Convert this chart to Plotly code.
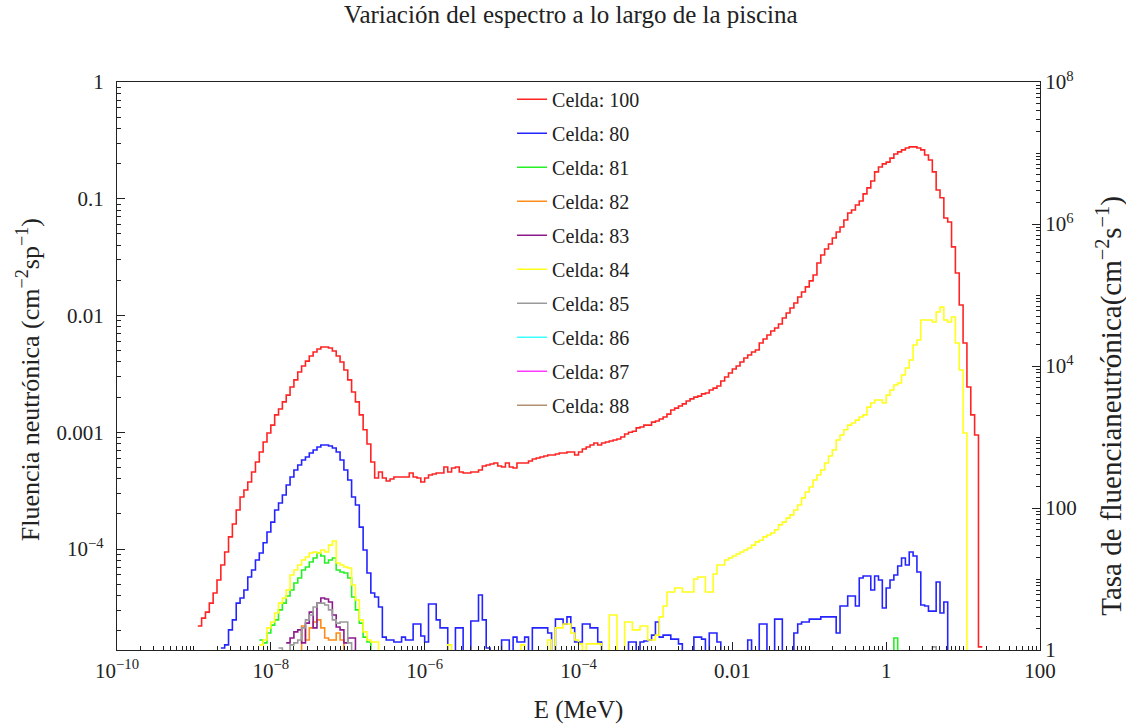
import numpy as np
import plotly.graph_objects as go

# ---------------- energy binning (log-spaced histogram bins) ----------------
LOG_E_FIRST_EDGE = -8.95      # log10 of first bin edge (MeV)
BINS_PER_DECADE = 20
Z = 1.0e-5                    # value read as "below the bottom axis"

# ---------------- series values (per bin, starting at given bin index) ----------------
RED = [
    2.19e-5, 2.56e-5, 2.88e-5, 3.44e-5, 4.20e-5, 5.42e-5, 7.29e-5, 9.42e-5, 1.27e-4, 1.64e-4,
    2.16e-4, 2.79e-4, 3.20e-4, 3.75e-4, 4.57e-4, 5.56e-4, 6.78e-4, 8.25e-4, 9.86e-4, 1.15e-3,
    1.41e-3, 1.58e-3, 1.82e-3, 2.08e-3, 2.44e-3, 2.81e-3, 3.28e-3, 3.69e-3, 4.07e-3, 4.50e-3,
    4.87e-3, 5.16e-3, 5.37e-3, 5.37e-3, 5.27e-3, 4.96e-3, 4.50e-3, 4.00e-3, 3.41e-3, 2.81e-3,
    2.21e-3, 1.82e-3, 1.41e-3, 1.05e-3, 7.93e-4, 5.56e-4, 4.06e-4, 4.57e-4, 4.06e-4, 3.82e-4,
    3.98e-4, 4.14e-4, 4.14e-4, 4.14e-4, 4.14e-4, 4.48e-4, 4.14e-4, 4.06e-4, 3.75e-4, 4.06e-4,
    4.30e-4, 4.39e-4, 4.48e-4, 4.48e-4, 5.04e-4, 4.57e-4, 4.94e-4, 5.04e-4, 4.57e-4, 4.48e-4,
    4.48e-4, 4.57e-4, 4.57e-4, 4.75e-4, 5.14e-4, 5.24e-4, 5.35e-4, 5.45e-4, 5.14e-4, 5.04e-4,
    5.45e-4, 5.04e-4, 4.94e-4, 5.45e-4, 5.45e-4, 5.45e-4, 5.67e-4, 5.90e-4, 6.02e-4, 6.14e-4,
    6.26e-4, 6.38e-4, 6.38e-4, 6.51e-4, 6.64e-4, 6.64e-4, 6.78e-4, 6.78e-4, 6.38e-4, 6.78e-4,
    7.19e-4, 7.48e-4, 7.78e-4, 8.09e-4, 7.78e-4, 8.09e-4, 8.25e-4, 8.41e-4, 8.58e-4, 8.75e-4,
    9.10e-4, 9.66e-4, 1.00e-3, 1.02e-3, 1.09e-3, 1.11e-3, 1.15e-3, 1.15e-3, 1.22e-3, 1.25e-3,
    1.30e-3, 1.35e-3, 1.43e-3, 1.55e-3, 1.61e-3, 1.68e-3, 1.75e-3, 1.85e-3, 1.93e-3, 2.00e-3,
    2.04e-3, 2.13e-3, 2.17e-3, 2.30e-3, 2.39e-3, 2.49e-3, 2.75e-3, 2.97e-3, 3.22e-3, 3.48e-3,
    3.69e-3, 4.00e-3, 4.33e-3, 4.59e-3, 4.87e-3, 5.06e-3, 5.81e-3, 6.29e-3, 6.81e-3, 7.37e-3,
    7.82e-3, 8.46e-3, 9.52e-3, 1.05e-2, 1.16e-2, 1.28e-2, 1.44e-2, 1.59e-2, 1.76e-2, 1.98e-2,
    2.22e-2, 2.82e-2, 3.30e-2, 3.71e-2, 4.10e-2, 4.61e-2, 5.19e-2, 5.73e-2, 6.58e-2, 7.55e-2,
    8.01e-2, 8.84e-2, 9.57e-2, 0.110, 0.124, 0.142, 0.170, 0.187, 0.199, 0.206,
    0.223, 0.242, 0.252, 0.262, 0.272, 0.278, 0.278, 0.272, 0.262, 0.237,
    0.215, 0.170, 0.119, 0.102, 6.84e-2, 6.33e-2, 3.87e-2, 2.31e-2, 1.23e-2, 5.81e-3,
    2.44e-3, 1.41e-3, 9.47e-4, 1.45e-5,
]
BLUE = [
    1.42e-5, 1.51e-5, 2.03e-5, 2.47e-5, 3.44e-5, 3.80e-5, 4.46e-5, 5.76e-5, 6.61e-5, 8.05e-5,
    9.24e-5, 1.13e-4, 1.40e-4, 1.70e-4, 2.16e-4, 2.48e-4, 2.90e-4, 3.53e-4, 4.14e-4, 4.75e-4,
    5.24e-4, 5.78e-4, 6.14e-4, 6.64e-4, 7.05e-4, 7.48e-4, 7.78e-4, 7.78e-4, 7.62e-4, 7.33e-4,
    6.78e-4, 5.78e-4, 4.75e-4, 3.90e-4, 2.79e-4, 2.38e-4, 1.54e-4, 9.80e-5, 6.23e-5, 4.20e-5,
    3.88e-5, 3.19e-5, 1.76e-5, 1.66e-5, 1.66e-5, 1.60e-5, 1.60e-5, 1.76e-5, 1.66e-5, 1.66e-5,
    2.28e-5, 2.28e-5, 1.80e-5, 1.60e-5, 3.38e-5, 3.38e-5, 2.47e-5, 2.11e-5, 2.11e-5, Z,
    Z, 2.11e-5, 2.11e-5, Z, Z, 2.42e-5, 2.42e-5, 4.04e-5, 2.47e-5, 1.42e-5,
    Z, Z, Z, 1.66e-5, 1.66e-5, Z, 1.76e-5, 1.60e-5, 1.60e-5, 1.76e-5,
    Z, 2.11e-5, 2.11e-5, 2.11e-5, 2.11e-5, 1.91e-5, Z, 2.51e-5, 2.51e-5, 2.28e-5,
    2.62e-5, 2.11e-5, 1.60e-5, 1.60e-5, 2.28e-5, 2.28e-5, 2.11e-5, 2.11e-5, 1.60e-5, Z,
    Z, Z, Z, Z, Z, Z, 1.60e-5, 1.60e-5, Z, 1.60e-5,
    1.63e-5, 1.66e-5, 1.83e-5, 2.37e-5, 1.76e-5, 1.83e-5, 1.83e-5, 1.69e-5, 1.69e-5, 1.54e-5,
    Z, Z, Z, 1.76e-5, 1.76e-5, 1.69e-5, Z, 1.91e-5, 1.91e-5, 1.60e-5,
    Z, Z, Z, Z, Z, Z, Z, 1.66e-5, Z, Z,
    2.28e-5, 2.28e-5, Z, Z, 2.51e-5, 2.51e-5, Z, Z, Z, 1.91e-5,
    2.28e-5, 2.37e-5, 2.37e-5, 2.51e-5, 2.51e-5, 2.51e-5, 2.62e-5, 2.62e-5, 2.62e-5, 2.62e-5,
    1.91e-5, 3.25e-5, 3.25e-5, 3.96e-5, 3.96e-5, 3.25e-5, 5.65e-5, 5.87e-5, 5.87e-5, 4.46e-5,
    5.87e-5, 5.42e-5, 3.12e-5, 4.63e-5, 5.42e-5, 5.99e-5, 7.15e-5, 8.37e-5, 7.29e-5, 9.42e-5,
    8.71e-5, 6.36e-5, 3.31e-5, 3.25e-5, 2.94e-5, 2.94e-5, 5.21e-5, 2.83e-5, 3.52e-5, Z,
]
GREEN_THERMAL = [
    1.66e-5, 1.57e-5, 1.91e-5, 2.23e-5, 2.47e-5, 3.01e-5, 3.44e-5, 3.96e-5, 4.46e-5, 5.11e-5,
    5.65e-5, 6.61e-5, 7.02e-5, 7.74e-5, 8.37e-5, 9.24e-5, 8.71e-5, 7.58e-5, 8.05e-5, 8.37e-5,
    6.61e-5, 6.36e-5, 6.23e-5, 5.65e-5, 3.88e-5, 3.01e-5, 2.32e-5, 1.76e-5, 1.60e-5, Z,
]
GREEN_FAST = [Z, 1.73e-5, Z]
ORANGE = [Z, 2.19e-5, 1.66e-5, 2.11e-5, 2.37e-5, 2.47e-5, 2.11e-5, 1.73e-5, 1.66e-5, 1.66e-5,
          1.91e-5, 1.66e-5, Z]
PURPLE = [1.57e-5, 1.73e-5, 1.95e-5, 2.03e-5, 1.57e-5, 2.32e-5, 2.88e-5, 2.11e-5, 3.44e-5, 3.80e-5,
          3.73e-5, 3.52e-5, 2.72e-5, 2.15e-5, 2.03e-5, 1.57e-5, 1.73e-5, 1.73e-5, Z]
YELLOW_THERMAL = [
    1.51e-5, 1.66e-5, 2.11e-5, 2.37e-5, 2.83e-5, 3.44e-5, 3.80e-5, 4.46e-5, 5.99e-5, 6.61e-5,
    7.29e-5, 8.05e-5, 8.54e-5, 9.24e-5, 9.42e-5, 9.24e-5, 9.80e-5, 9.42e-5, 1.08e-4, 1.17e-4,
    7.58e-5, 7.29e-5, 7.02e-5, 6.88e-5, 4.92e-5, 3.66e-5, 2.47e-5, 1.95e-5, 1.66e-5, 1.60e-5,
    1.60e-5, Z,
]
YELLOW_EPI_1 = [Z, 1.51e-5, Z]
YELLOW_EPI_2 = [Z, 1.51e-5, Z]
YELLOW_FAST = [
    Z, 1.66e-5, Z, 2.11e-5, 2.11e-5, 2.28e-5, 2.28e-5, 1.91e-5, 1.66e-5, 1.54e-5,
    Z, 1.54e-5, 1.54e-5, 1.54e-5, 1.54e-5, Z, Z, 2.72e-5, 2.72e-5, Z,
    Z, 2.37e-5, 2.37e-5, 2.03e-5, 2.03e-5, 2.19e-5, 2.19e-5, 1.66e-5, 1.66e-5, 1.83e-5,
    2.62e-5, 3.25e-5, 4.28e-5, 4.28e-5, 4.63e-5, 4.63e-5, 4.28e-5, 4.28e-5, 4.28e-5, 5.53e-5,
    5.76e-5, 5.76e-5, 4.28e-5, 4.28e-5, 6.11e-5, 7.29e-5, 7.29e-5, 8.05e-5, 8.37e-5, 8.71e-5,
    9.06e-5, 9.42e-5, 9.80e-5, 1.02e-4, 1.08e-4, 1.15e-4, 1.19e-4, 1.27e-4, 1.32e-4, 1.37e-4,
    1.46e-4, 1.61e-4, 1.70e-4, 1.84e-4, 1.96e-4, 2.16e-4, 2.38e-4, 2.74e-4, 3.08e-4, 3.40e-4,
    3.90e-4, 4.30e-4, 4.75e-4, 5.45e-4, 6.26e-4, 7.05e-4, 8.58e-4, 9.47e-4, 1.05e-3, 1.15e-3,
    1.20e-3, 1.27e-3, 1.35e-3, 1.41e-3, 1.64e-3, 1.78e-3, 1.89e-3, 1.89e-3, 1.78e-3, 2.08e-3,
    2.30e-3, 2.54e-3, 2.64e-3, 3.09e-3, 3.55e-3, 4.16e-3, 5.59e-3, 6.17e-3, 9.15e-3, 9.15e-3,
    9.15e-3, 8.79e-3, 1.07e-2, 1.18e-2, 9.15e-3, 8.79e-3, 9.71e-3, 5.81e-3, 3.41e-3, 9.86e-4,
    Z,
]
GRAY_THERMAL = [1.42e-5, Z, Z, 1.51e-5, 1.57e-5, 1.66e-5, 2.11e-5, 2.47e-5, 2.72e-5, 3.19e-5,
                3.44e-5, 3.44e-5, 3.31e-5, 3.01e-5, 2.47e-5, 2.32e-5, 2.37e-5, 2.37e-5, 1.57e-5, Z]
GRAY_FAST = [Z, 1.45e-5, Z]

# (label, colour, [(first bin index, values), ...])
SERIES = [
    ("Celda: 100", "#ff2424", [(0, RED)]),
    ("Celda: 80", "#2424ff", [(6, BLUE)]),
    ("Celda: 81", "#24f024", [(16, GREEN_THERMAL), (180, GREEN_FAST)]),
    ("Celda: 82", "#ff8c1a", [(26, ORANGE)]),
    ("Celda: 83", "#8c1a8c", [(23, PURPLE)]),
    ("Celda: 84", "#ffff1a", [(16, YELLOW_THERMAL), (64, YELLOW_EPI_1), (83, YELLOW_EPI_2),
                              (90, YELLOW_FAST)]),
    ("Celda: 85", "#9a9a9a", [(21, GRAY_THERMAL), (190, GRAY_FAST)]),
    ("Celda: 86", "#3cffff", []),
    ("Celda: 87", "#ff3cff", []),
    ("Celda: 88", "#b09070", []),
]

X_LABEL_EXP = [-10, -8, -6, -4, -2, 0, 2]
X_LABEL_TEXT = ["10<sup>−10</sup>", "10<sup>−8</sup>", "10<sup>−6</sup>", "10<sup>−4</sup>",
                "0.01", "1", "100"]
Y_LABEL_EXP = [-4, -3, -2, -1, 0]
Y_LABEL_TEXT = ["10<sup>−4</sup>", "0.001", "0.01", "0.1", "1"]
Y2_LABEL_EXP = [0, 2, 4, 6, 8]
Y2_LABEL_TEXT = ["1", "100", "10<sup>4</sup>", "10<sup>6</sup>", "10<sup>8</sup>"]

TITLE = "Variación del espectro a lo largo de la piscina"
X_TITLE = "E (MeV)"
Y_TITLE = "Fluencia neutrónica (cm<sup>−2</sup>sp<sup>−1</sup>)"
Y2_TITLE = "Tasa de fluencianeutrónica(cm<sup>−2</sup>s<sup>−1</sup>)"

FONT = "Liberation Serif, Times New Roman, serif"
INK = "#222"


def edge(i):
    return 10 ** (LOG_E_FIRST_EDGE + i / BINS_PER_DECADE)


def steps(segments):
    xs, ys = [], []
    for start, vals in segments:
        if xs:
            xs.append(None)
            ys.append(None)
        for k, v in enumerate(vals):
            xs += [edge(start + k), edge(start + k + 1)]
            ys += [v, v]
    if not xs:
        xs, ys = [None], [None]
    return xs, ys


fig = go.Figure()
for gi, (name, color, segs) in enumerate(SERIES):
    xs, ys = steps(segs)
    fig.add_trace(go.Scatter(
        x=xs, y=ys, mode="lines", name=name, legendgroup=f"g{gi}",
        line=dict(color=color, width=1.6), connectgaps=False,
    ))

# carrier for the right-hand (fluence-rate) axis; it holds no marks
fig.add_trace(go.Scatter(x=[None], y=[None], yaxis="y2", mode="lines", showlegend=False,
                         hoverinfo="skip"))


def minor_vals(lo, hi, labelled):
    vals = [m * 10.0 ** k for k in range(lo, hi) for m in range(2, 10)]
    vals += [10.0 ** k for k in range(lo, hi + 1) if k not in labelled]
    return vals


axis_common = dict(
    type="log", showline=True, linecolor=INK, linewidth=1.2, ticks="inside",
    tickcolor=INK, showgrid=False, zeroline=False, tickmode="array", automargin=False,
    tickfont=dict(family=FONT, size=21, color=INK),
)

fig.update_layout(
    width=1126, height=726,
    margin=dict(l=117, r=86, t=82, b=76),
    paper_bgcolor="white", plot_bgcolor="white",
    title=dict(text=TITLE, x=0.507, xanchor="center", y=0.992, yanchor="top",
               font=dict(family=FONT, size=25, color=INK)),
    xaxis=dict(**axis_common, range=[-10, 2], mirror=True,
               tickvals=[10.0 ** e for e in X_LABEL_EXP], ticktext=X_LABEL_TEXT, ticklen=8,
               ticklabelstandoff=2,
               minor=dict(tickvals=minor_vals(-10, 2, X_LABEL_EXP), ticks="inside", ticklen=4,
                          tickcolor=INK),
               title=dict(text=X_TITLE, font=dict(family=FONT, size=25, color=INK), standoff=18)),
    yaxis=dict(**axis_common, range=[-4.865, 0],
               tickvals=[10.0 ** e for e in Y_LABEL_EXP], ticktext=Y_LABEL_TEXT, ticklen=8,
               ticklabelstandoff=8,
               minor=dict(tickvals=minor_vals(-5, 0, Y_LABEL_EXP), ticks="inside", ticklen=4,
                          tickcolor=INK)),
    yaxis2=dict(**axis_common, range=[0, 8], overlaying="y", side="right",
                tickvals=[10.0 ** e for e in Y2_LABEL_EXP], ticktext=Y2_LABEL_TEXT, ticklen=8,
                minor=dict(tickvals=minor_vals(0, 8, Y2_LABEL_EXP), ticks="inside", ticklen=4,
                           tickcolor=INK)),
    annotations=[
        dict(text=Y_TITLE, textangle=-90, xref="paper", yref="paper", x=-0.0964, y=0.475,
             xanchor="center", yanchor="middle", showarrow=False,
             font=dict(family=FONT, size=26, color=INK)),
        dict(text=Y2_TITLE, textangle=-90, xref="paper", yref="paper", x=1.0758, y=0.43,
             xanchor="center", yanchor="middle", showarrow=False,
             font=dict(family=FONT, size=29, color=INK)),
    ],
    legend=dict(x=0.428, y=1.004, xanchor="left", yanchor="top", bgcolor="rgba(255,255,255,0)",
                font=dict(family=FONT, size=20, color=INK), traceorder="grouped",
                tracegroupgap=5, itemwidth=30),
    showlegend=True,
)

fig.write_html("out.html", config={"displayModeBar": False},
               post_script="document.body.style.margin='0';")
